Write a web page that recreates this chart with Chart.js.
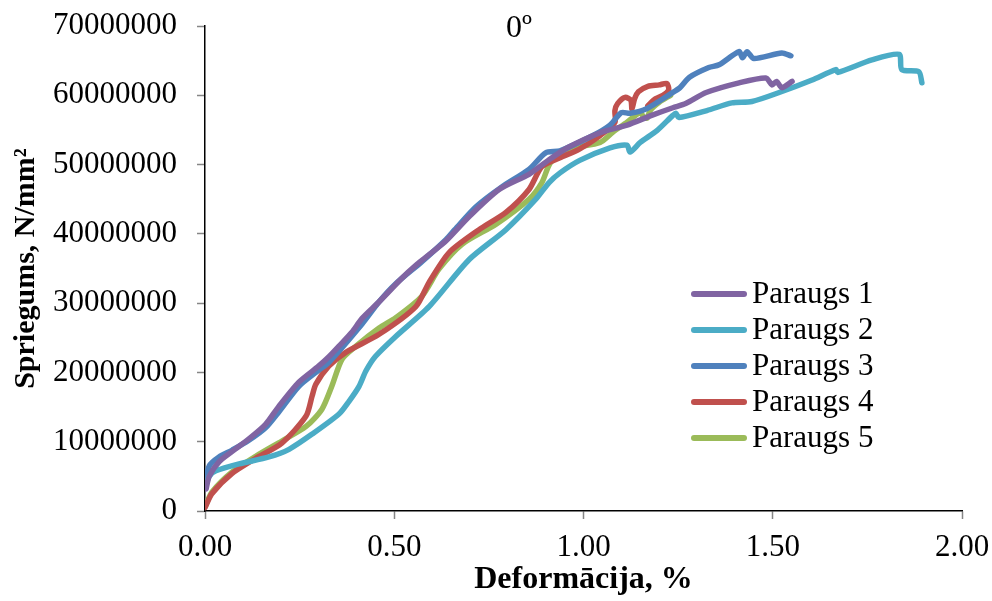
<!DOCTYPE html>
<html>
<head>
<meta charset="utf-8">
<script src="https://cdn.jsdelivr.net/npm/chart.js@4"></script>
<style>
  html, body { margin: 0; padding: 0; background: #fff; }
  #wrap { width: 992px; height: 601px; }
</style>
</head>
<body>
<div id="wrap"><canvas id="grafic" width="992" height="601"></canvas></div>
<script>
// dades llegides de la figura (deformacija %, spriegums milj. N/mm2)
const nosaukumi = ['Paraugs 1', 'Paraugs 2', 'Paraugs 3', 'Paraugs 4', 'Paraugs 5'];
const krasas = ['#8064A2', '#4BACC6', '#4F81BD', '#C0504D', '#9BBB59'];

const x1 = [0.003, 0.011, 0.037, 0.072, 0.116, 0.16, 0.195, 0.248, 0.3, 0.328, 0.354, 0.388, 0.415, 0.46, 0.52, 0.56, 0.592, 0.637, 0.698, 0.777, 0.856, 0.909, 0.96, 1.044, 1.115, 1.18, 1.236, 1.27, 1.324, 1.411, 1.482, 1.498, 1.51, 1.524, 1.551];
const y1 = [3.2, 5.0, 7.1, 8.6, 10.4, 12.5, 15.1, 18.6, 20.9, 22.3, 23.8, 25.8, 27.8, 30.2, 33.6, 35.6, 37.0, 39.0, 42.5, 46.4, 48.6, 50.7, 52.5, 54.6, 55.7, 57.1, 58.2, 58.8, 60.4, 61.8, 62.5, 61.5, 62.0, 61.1, 62.0];

const x2 = [0.002, 0.011, 0.029, 0.09, 0.169, 0.222, 0.283, 0.354, 0.38, 0.407, 0.425, 0.45, 0.504, 0.592, 0.698, 0.795, 0.874, 0.909, 0.938, 0.99, 1.07, 1.115, 1.123, 1.15, 1.194, 1.236, 1.244, 1.252, 1.326, 1.392, 1.445, 1.517, 1.604, 1.667, 1.672, 1.762, 1.834, 1.841, 1.886, 1.894];
const y2 = [3.6, 5.0, 5.8, 6.8, 7.8, 8.9, 11.1, 14.0, 15.8, 18.0, 20.2, 22.3, 25.2, 29.5, 36.3, 40.6, 45.0, 47.4, 48.8, 50.6, 52.4, 52.8, 51.8, 53.2, 54.9, 57.1, 57.4, 56.8, 57.8, 58.9, 59.1, 60.4, 62.2, 63.7, 63.3, 65.1, 65.9, 63.7, 63.4, 61.8];

const x3 = [0.002, 0.011, 0.037, 0.072, 0.116, 0.16, 0.195, 0.248, 0.3, 0.328, 0.415, 0.46, 0.504, 0.573, 0.637, 0.66, 0.716, 0.785, 0.856, 0.9, 0.938, 1.025, 1.07, 1.1, 1.123, 1.168, 1.23, 1.255, 1.28, 1.331, 1.358, 1.411, 1.42, 1.432, 1.45, 1.524, 1.548];
const y3 = [4.2, 6.5, 7.8, 8.8, 10.2, 12.0, 14.3, 18.0, 20.3, 21.5, 27.0, 30.2, 32.8, 36.0, 39.2, 40.6, 43.9, 46.8, 49.3, 51.7, 52.0, 54.2, 55.7, 57.5, 57.4, 58.1, 60.2, 61.1, 62.6, 64.0, 64.4, 66.3, 65.4, 66.3, 65.3, 66.1, 65.7];

const x4 = [0.0, 0.018, 0.071, 0.134, 0.203, 0.267, 0.283, 0.293, 0.327, 0.372, 0.46, 0.557, 0.592, 0.645, 0.724, 0.795, 0.856, 0.89, 0.938, 0.988, 1.044, 1.083, 1.083, 1.09, 1.11, 1.125, 1.128, 1.135, 1.145, 1.17, 1.2, 1.22, 1.225, 1.21, 1.19, 1.17];
const y4 = [0.5, 2.5, 5.4, 7.6, 9.8, 13.7, 16.6, 18.3, 20.9, 22.9, 25.5, 29.5, 33.0, 37.3, 40.6, 43.1, 46.4, 49.7, 51.0, 52.2, 54.2, 56.1, 57.8, 58.8, 59.7, 59.3, 58.0, 59.5, 60.5, 61.3, 61.5, 61.7, 60.8, 60.0, 59.5, 58.5];

const x5 = [0.0, 0.018, 0.071, 0.134, 0.203, 0.267, 0.309, 0.335, 0.362, 0.399, 0.46, 0.504, 0.573, 0.618, 0.679, 0.769, 0.856, 0.89, 0.913, 0.96, 1.044, 1.078, 1.115, 1.149, 1.16, 1.168, 1.176, 1.2, 1.23];
const y5 = [0.6, 2.7, 5.6, 7.9, 10.1, 12.2, 14.7, 18.0, 21.9, 23.8, 26.4, 27.9, 31.0, 34.9, 38.5, 41.4, 45.0, 47.4, 50.3, 52.2, 53.2, 54.7, 56.1, 57.5, 56.8, 56.7, 57.8, 59.0, 60.0];

const xTicks = ['0.00', '0.50', '1.00', '1.50', '2.00'];
const yTicks = ['0', '10000000', '20000000', '30000000', '40000000', '50000000', '60000000', '70000000'];

const visiX = [x1, x2, x3, x4, x5];
const visiY = [y1, y2, y3, y4, y5];

const fonts = 'Liberation Serif, Times New Roman, serif';

function punkti(xs, ys) {
    return xs.map((x, i) => ({ x: x, y: ys[i] * 1000000 }));
}

const datasets = nosaukumi.map((n, i) => ({
    label: n,
    data: punkti(visiX[i], visiY[i]),
    borderColor: krasas[i],
    backgroundColor: krasas[i],
    borderWidth: 5.5,
    pointRadius: 0,
    showLine: true,
    tension: 0.25,
    borderCapStyle: 'round',
    borderJoinStyle: 'round'
}));

// leģenda un virsraksts zīmēti pašu rokām
const legendaPlugin = {
    id: 'legendaIeksa',
    afterDraw(chart) {
        const ctx = chart.ctx;
        ctx.save();
        ctx.font = '31px ' + fonts;
        ctx.textBaseline = 'middle';
        ctx.lineCap = 'round';
        chart.data.datasets.forEach((ds, i) => {
            const y = 294 + i * 36;
            ctx.strokeStyle = ds.borderColor;
            ctx.lineWidth = 6;
            ctx.beginPath();
            ctx.moveTo(694, y);
            ctx.lineTo(744, y);
            ctx.stroke();
            ctx.fillStyle = '#000';
            ctx.fillText(ds.label, 752, y + 1);
        });
        ctx.font = '32px ' + fonts;
        ctx.textAlign = 'center';
        ctx.textBaseline = 'alphabetic';
        ctx.fillText('0º', 519, 37);
        ctx.restore();
    }
};

new Chart(document.getElementById('grafic'), {
    type: 'scatter',
    data: { datasets: datasets },
    plugins: [legendaPlugin],
    options: {
        responsive: false,
        animation: false,
        layout: { padding: { left: 0, right: 30, top: 26, bottom: 0 } },
        plugins: { legend: { display: false }, tooltip: { enabled: false } },
        scales: {
            x: {
                type: 'linear',
                min: 0, max: 2,
                afterFit: s => { s.height = 90; s.paddingLeft = 0; s.paddingRight = 0; },
                afterBuildTicks: s => { s.ticks = xTicks.map(t => ({ value: parseFloat(t) })); },
                ticks: {
                    callback: (v) => xTicks.find(t => parseFloat(t) === v),
                    font: { family: fonts, size: 31 }, color: '#000', padding: 10, maxRotation: 0
                },
                grid: { drawOnChartArea: false, drawTicks: true, tickLength: 8, tickColor: '#868686', tickWidth: 1.5 },
                border: { color: '#000', width: 1.5 },
                title: { display: true, text: 'Deformācija, %', font: { family: fonts, size: 32, weight: 'bold' }, color: '#000', padding: { top: 0, bottom: 2 } }
            },
            y: {
                type: 'linear',
                min: 0, max: 70000000,
                afterFit: s => { s.width = 205; s.paddingTop = 0; s.paddingBottom = 0; },
                afterBuildTicks: s => { s.ticks = yTicks.map(t => ({ value: Number(t) })); },
                ticks: {
                    callback: (v) => String(v),
                    font: { family: fonts, size: 31 }, color: '#000', padding: 20
                },
                grid: { drawOnChartArea: false, drawTicks: true, tickLength: 8, tickColor: '#868686', tickWidth: 1.5 },
                border: { color: '#000', width: 1.5 },
                title: { display: true, text: 'Spriegums, N/mm²', font: { family: fonts, size: 30, weight: 'bold' }, color: '#000', padding: { top: 8, bottom: 0 } }
            }
        }
    }
});
</script>
</body>
</html>
